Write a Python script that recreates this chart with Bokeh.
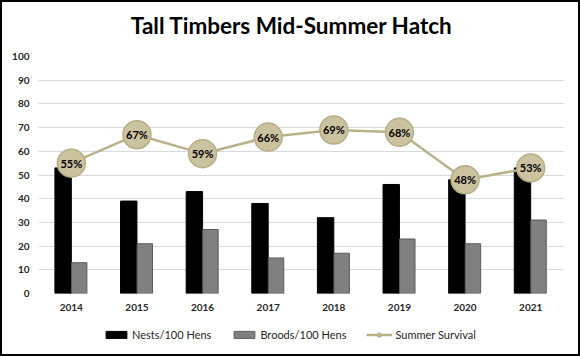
from bokeh.plotting import figure
from bokeh.layouts import column
from bokeh.models import (ColumnDataSource, FactorRange, Range1d, FixedTicker,
                          Legend, LegendItem, Label)
from bokeh.transform import dodge
from bokeh.core.properties import value
from bokeh.embed import file_html
from bokeh.resources import INLINE

years = ["2014", "2015", "2016", "2017", "2018", "2019", "2020", "2021"]
nests = [53, 39, 43, 38, 32, 46, 48, 53]
broods = [13, 21, 27, 15, 17, 23, 21, 31]
survival = [55, 67, 59, 66, 69, 68, 48, 53]
survival_labels = [f"{v}%" for v in survival]
y_ticks = list(range(0, 101, 10))
title_text = "Tall Timbers Mid-Summer Hatch"
legend_labels = ["Nests/100 Hens", "Broods/100 Hens", "Summer Survival"]

src = ColumnDataSource(dict(year=years, nests=nests, broods=broods,
                            survival=survival, lab=survival_labels))

FONT = "Lato"
NEST_STYLE = dict(fill_color="black", line_color="black")
BROOD_STYLE = dict(fill_color="#808080", line_color="#5c5c5c", line_width=1)
LINE_STYLE = dict(line_color="#bbb28b", line_width=2.5)
DOT_STYLE = dict(fill_color="#cbc29f", line_color="#b7ad86", line_width=1.5)
W = 576


def strip(h):
    f = figure(width=W, height=h, x_range=Range1d(0, W), y_range=Range1d(0, h),
               output_backend="svg", toolbar_location=None, min_border=0,
               x_axis_location=None, y_axis_location=None)
    f.grid.visible = False
    f.outline_line_color = None
    f.background_fill_color = "white"
    f.border_fill_color = "white"
    return f


# title strip
TH = 44
ts = strip(TH)
ts.add_layout(Label(x=W / 2 - 10, y=TH - 23, text=title_text, text_font=FONT,
                    text_font_style="bold", text_font_size="22.5px",
                    text_align="center", text_baseline="middle",
                    text_color="black"))

# main chart
p = figure(width=W, height=278, x_range=FactorRange(*years),
           y_range=Range1d(0, 100), output_backend="svg", toolbar_location=None,
           min_border_left=36, min_border_right=15, min_border_top=10,
           min_border_bottom=31)
p.background_fill_color = "white"
p.border_fill_color = "white"
p.outline_line_color = None

p.vbar(x=dodge("year", -0.125, range=p.x_range), top="nests", width=0.25,
       source=src, **NEST_STYLE)
p.vbar(x=dodge("year", 0.12, range=p.x_range), top="broods", width=0.235,
       source=src, **BROOD_STYLE)
p.line(x="year", y="survival", source=src, **LINE_STYLE)
p.scatter(x="year", y="survival", source=src, size=28, **DOT_STYLE)
p.text(x="year", y="survival", text="lab", source=src, text_align="center",
       text_baseline="middle", text_font=value(FONT), text_font_style="bold",
       text_font_size="11px", text_color="black")

p.xgrid.grid_line_color = None
p.ygrid.grid_line_color = "#d9d9d9"
p.ygrid.grid_line_width = 1
p.yaxis.ticker = FixedTicker(ticks=y_ticks)
for ax in (p.xaxis[0], p.yaxis[0]):
    ax.axis_line_color = None
    ax.major_tick_line_color = None
    ax.minor_tick_line_color = None
    ax.major_label_text_font = FONT
    ax.major_label_text_font_style = "bold"
    ax.major_label_text_font_size = "10px"
    ax.major_label_text_color = "#262626"
p.yaxis.major_label_standoff = 3
p.xaxis.major_label_standoff = 4

# legend strip (legend keys only; key glyphs sit outside the visible range)
lg = strip(30)
off = ColumnDataSource(dict(x=[-50], y=[-50]))
r1 = lg.vbar(x="x", top="y", width=1, source=off, **NEST_STYLE)
r2 = lg.vbar(x="x", top="y", width=1, source=off, **BROOD_STYLE)
r3 = lg.line(x="x", y="y", source=off, **LINE_STYLE)
r4 = lg.scatter(x="x", y="y", source=off, size=6, **DOT_STYLE)

legend = Legend(items=[LegendItem(label=legend_labels[0], renderers=[r1]),
                       LegendItem(label=legend_labels[1], renderers=[r2]),
                       LegendItem(label=legend_labels[2], renderers=[r3, r4])],
                orientation="horizontal", location=(65, 13),
                label_text_font=FONT, label_text_font_size="11px",
                label_text_color="#262626", glyph_width=26, glyph_height=9,
                label_height=14, label_standoff=3, spacing=20, padding=0,
                margin=0, border_line_color=None, background_fill_alpha=0)
lg.add_layout(legend, "center")

layout = column(ts, p, lg, spacing=0)
layout.styles = {"border": "2px solid black", "background-color": "white"}

open("out.html", "w").write(file_html(layout, INLINE))
